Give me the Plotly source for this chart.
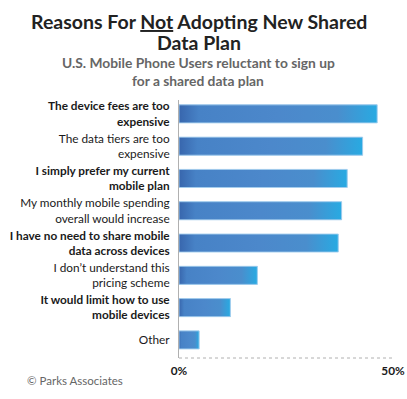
import plotly.graph_objects as go

categories = [
    "<b>The device fees are too<br>expensive</b>",
    "The data tiers are too<br>expensive",
    "<b>I simply prefer my current<br>mobile plan</b>",
    "My monthly mobile spending<br>overall would increase",
    "<b>I have no need to share mobile<br>data across devices</b>",
    "I don\u2019t understand this<br>pricing scheme",
    "<b>It would limit how to use<br>mobile devices</b>",
    "Other",
]
values = [46.3, 42.9, 39.3, 38.0, 37.2, 18.3, 12.0, 4.7]
x_tickvals = [0, 50]
x_ticktext = ["<b>0%</b>", "<b>50%</b>"]

FONT = "Lato"
positions = list(range(len(categories)))
half = 0.28

W, H = 407, 399
L, R, T, B = 179, 393, 100, 358
def px(x):
    return (x - L) / (R - L)
def py(y):
    return (B - y) / (B - T)

fig = go.Figure()
fig.add_trace(go.Bar(
    y=positions, x=values, orientation="h", width=2 * half,
    marker=dict(color="#4a86c9", line=dict(width=0)),
    hoverinfo="skip", showlegend=False,
))
grad = [[0, "#3866ad"], [0.1, "#4782c6"], [0.5, "#4c88cb"], [0.8, "#4a8ecd"], [1, "#28aae2"]]
for p, v in zip(positions, values):
    fig.add_trace(go.Scatter(
        x=[0, v, v, 0, 0], y=[p - half, p - half, p + half, p + half, p - half],
        mode="lines", fill="toself",
        line=dict(color="rgba(170,210,240,0.9)", width=1),
        fillgradient=dict(type="horizontal", colorscale=grad),
        hoverinfo="skip", showlegend=False,
    ))

fig.update_layout(
    width=W, height=H,
    margin=dict(l=L, r=W - R, t=T, b=H - B, autoexpand=False),
    paper_bgcolor="white", plot_bgcolor="white",
    font=dict(family=FONT, color="#1a1a1a", size=12),
    xaxis=dict(range=[0, 50], tickvals=x_tickvals, ticktext=x_ticktext,
               showgrid=False, zeroline=False, showline=False, automargin=False,
               tickfont=dict(size=11.8, color="#1a1a1a"), ticklabelstandoff=4),
    yaxis=dict(range=[7.56, -0.43], tickvals=positions, ticktext=categories,
               showgrid=False, zeroline=False, showline=True, automargin=False,
               linecolor="#b0b0b0", linewidth=1,
               tickfont=dict(size=11.8, color="#1a1a1a"), ticklabelstandoff=6),
    shapes=[dict(type="line", xref="x", yref="paper", x0=0, x1=50, y0=0, y1=0,
                 line=dict(color="#b0b0b0", width=1, dash="dot"))],
)
title_lines = [("<b>Reasons For <u>Not</u> Adopting New Shared</b>", 22),
               ("<b>Data Plan</b>", 42)]
for t, y in title_lines:
    fig.add_annotation(text=t, xref="paper", yref="paper", x=px(198.5), y=py(y),
                       showarrow=False, xanchor="center", yanchor="middle",
                       font=dict(family=FONT, size=19.5, color="#222222"))
sub_lines = [("<b>U.S. Mobile Phone Users reluctant to sign up</b>", 63),
             ("<b>for a shared data plan</b>", 80)]
for t, y in sub_lines:
    fig.add_annotation(text=t, xref="paper", yref="paper", x=px(198), y=py(y),
                       showarrow=False, xanchor="center", yanchor="middle",
                       font=dict(family=FONT, size=13.8, color="#666666"))
fig.add_annotation(text="\u00a9 Parks Associates",
                   xref="paper", yref="paper", x=px(25), y=py(380),
                   showarrow=False, xanchor="left", yanchor="middle",
                   font=dict(family=FONT, size=11.5, color="#666666"))

fig.write_html(
    "out.html",
    config={"displayModeBar": False, "staticPlot": True},
    post_script="document.body.style.margin='0';document.body.style.overflow='hidden';",
)
